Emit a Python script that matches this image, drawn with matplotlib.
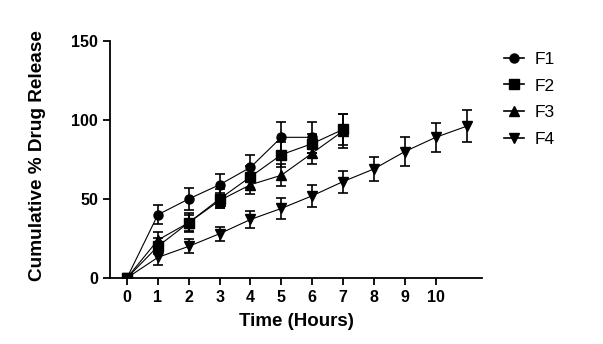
import matplotlib.pyplot as plt
from matplotlib.lines import Line2D

plt.rcParams['font.family'] = ['Liberation Sans', 'DejaVu Sans']

time_f1 = [0, 1, 2, 3, 4, 5, 6]
f1 = [0, 40, 50, 59, 70, 89, 89]
f1_err = [0, 6, 7, 7, 8, 10, 10]

time_f2 = [0, 1, 2, 3, 4, 5, 6, 7]
f2 = [0, 20, 35, 50, 64, 78, 85, 94]
f2_err = [0, 5, 6, 6, 7, 8, 6, 10]

time_f3 = [0, 1, 2, 3, 4, 5, 6, 7]
f3 = [0, 24, 35, 49, 59, 65, 79, 93]
f3_err = [0, 5, 5, 5, 6, 7, 7, 11]

time_f4 = [0, 1, 2, 3, 4, 5, 6, 7, 8, 9, 10, 11]
f4 = [0, 13, 20, 28, 37, 44, 52, 61, 69, 80, 89, 96]
f4_err = [0, 4.5, 4.5, 4.5, 5.5, 6.5, 7, 7, 7.5, 9, 9, 10]

x_ticks = [0, 1, 2, 3, 4, 5, 6, 7, 8, 9, 10]
y_ticks = [0, 50, 100, 150]

fig = plt.figure(figsize=(6.03, 3.44), dpi=100)
ax = fig.add_axes([0.1824, 0.192, 0.617, 0.689])

series = [
    (time_f1, f1, f1_err, 'o', 'F1'),
    (time_f2, f2, f2_err, 's', 'F2'),
    (time_f3, f3, f3_err, '^', 'F3'),
    (time_f4, f4, f4_err, 'v', 'F4'),
]
handles = []
for t, v, e, m, lab in series:
    ax.errorbar(t, v, yerr=e, marker=m, color='black', lw=0.8, ms=6.5,
                capsize=3.8, elinewidth=1.2, capthick=1.2)
    handles.append(Line2D([], [], marker=m, color='black', lw=1.2, ms=6.5, label=lab))

ax.set_xlim(-0.55, 11.5)
ax.set_ylim(0, 150)
ax.set_xticks(x_ticks)
ax.set_yticks(y_ticks)
ax.spines['top'].set_visible(False)
ax.spines['right'].set_visible(False)
ax.spines['left'].set_linewidth(1.3)
ax.spines['bottom'].set_linewidth(1.3)
ax.tick_params(width=1.3, length=5, labelsize=11.5)
for lbl in ax.get_xticklabels() + ax.get_yticklabels():
    lbl.set_fontweight('bold')

ax.set_xlabel('Time (Hours)', fontsize=13.5, fontweight='bold', labelpad=6)
ax.set_ylabel('Cumulative % Drug Release', fontsize=13.7, fontweight='bold')
ax.yaxis.set_label_coords(-0.172, 0.515)

fig.legend(handles=handles, loc='upper left', bbox_to_anchor=(0.81, 0.895),
           frameon=False, fontsize=12.5, handlelength=1.15, handletextpad=0.6,
           labelspacing=0.66)

fig.savefig('out.png', dpi=100)
